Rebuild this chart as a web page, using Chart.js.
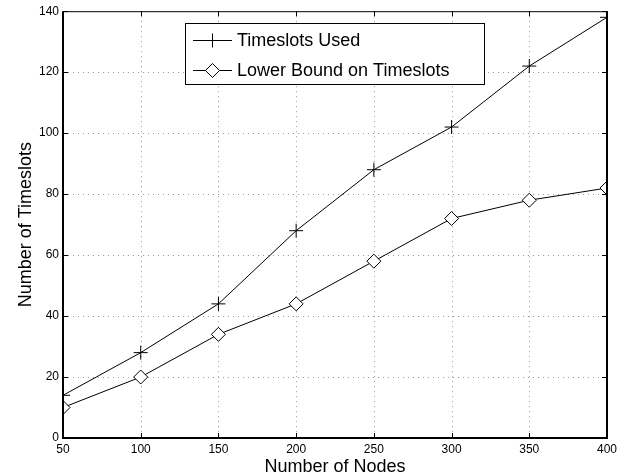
<!DOCTYPE html>
<html>
<head>
<meta charset="utf-8">
<script src="https://cdn.jsdelivr.net/npm/chart.js@4/dist/chart.umd.min.js"></script>
<style>
  html, body { margin: 0; padding: 0; background: #fff; }
  #wrap { width: 629px; height: 476px; position: relative; }
</style>
</head>
<body>
<div id="wrap"><canvas id="c"></canvas></div>
<script>
// data
const nodes = [50, 100, 150, 200, 250, 300, 350, 400];
const timeslotsUsed = [14, 28, 44, 68, 88, 102, 122, 138];
const lowerBound = [10, 20, 34, 44, 58, 72, 78, 82];
const xTicks = [50, 100, 150, 200, 250, 300, 350, 400];
const yTicks = [0, 20, 40, 60, 80, 100, 120, 140];

const FONT = '"Liberation Sans", Arial, Helvetica, sans-serif';

const toPoints = ys => nodes.map((x, i) => ({ x: x, y: ys[i] }));

// matlab style frame: dotted grid, box, inward ticks
const frame = {
    id: 'frame',
    beforeDatasetsDraw(chart) {
        const { ctx, chartArea: a, scales: { x, y } } = chart;
        ctx.save();
        ctx.strokeStyle = '#9a9a9a';
        ctx.lineWidth = 1;
        ctx.setLineDash([1, 4]);
        xTicks.forEach(v => {
            const px = Math.round(x.getPixelForValue(v)) + 0.5;
            if (px < a.left + 2 || px > a.right - 2) return;
            ctx.beginPath(); ctx.moveTo(px, a.top); ctx.lineTo(px, a.bottom); ctx.stroke();
        });
        yTicks.forEach(v => {
            const py = Math.round(y.getPixelForValue(v)) + 0.5;
            if (py < a.top + 2 || py > a.bottom - 2) return;
            ctx.beginPath(); ctx.moveTo(a.left, py); ctx.lineTo(a.right, py); ctx.stroke();
        });
        ctx.restore();
    },
    afterDatasetsDraw(chart) {
        const { ctx, chartArea: a, scales: { x, y } } = chart;
        ctx.save();
        ctx.strokeStyle = '#000';
        ctx.setLineDash([]);
        // top edge thin
        ctx.lineWidth = 1;
        ctx.beginPath(); ctx.moveTo(a.left, a.top + 0.5); ctx.lineTo(a.right, a.top + 0.5); ctx.stroke();
        // left, bottom, right thicker
        ctx.lineWidth = 2;
        ctx.beginPath();
        ctx.moveTo(a.left, a.top); ctx.lineTo(a.left, a.bottom);
        ctx.lineTo(a.right, a.bottom); ctx.lineTo(a.right, a.top);
        ctx.stroke();
        // inward tick marks
        const tl = 5;
        ctx.lineWidth = 1;
        xTicks.forEach(v => {
            const px = Math.round(x.getPixelForValue(v)) + 0.5;
            ctx.beginPath();
            ctx.moveTo(px, a.bottom); ctx.lineTo(px, a.bottom - tl);
            ctx.moveTo(px, a.top); ctx.lineTo(px, a.top + tl);
            ctx.stroke();
        });
        yTicks.forEach(v => {
            const py = Math.round(y.getPixelForValue(v)) + 0.5;
            ctx.beginPath();
            ctx.moveTo(a.left, py); ctx.lineTo(a.left + tl, py);
            ctx.moveTo(a.right, py); ctx.lineTo(a.right - tl, py);
            ctx.stroke();
        });
        ctx.restore();
    }
};

// boxed legend with line + marker samples
const boxLegend = {
    id: 'boxLegend',
    afterDraw(chart) {
        const ctx = chart.ctx;
        const box = { x: 185.5, y: 23.5, w: 299, h: 61 };
        const rows = [40.5, 70.5];
        ctx.save();
        ctx.fillStyle = '#fff';
        ctx.fillRect(box.x, box.y, box.w, box.h);
        ctx.strokeStyle = '#000';
        ctx.lineWidth = 1;
        ctx.strokeRect(box.x, box.y, box.w, box.h);
        chart.data.datasets.forEach((ds, i) => {
            const cy = rows[i];
            ctx.strokeStyle = '#000';
            ctx.lineWidth = 1;
            ctx.beginPath(); ctx.moveTo(193, cy); ctx.lineTo(232, cy); ctx.stroke();
            ctx.fillStyle = ds.pointBackgroundColor;
            ctx.strokeStyle = '#000';
            Chart.helpers.drawPoint(ctx, {
                pointStyle: ds.pointStyle,
                radius: ds.pointRadius,
                borderWidth: 1,
                rotation: 0
            }, 212.5, cy);
            ctx.fillStyle = '#000';
            ctx.font = '18px ' + FONT;
            ctx.textBaseline = 'middle';
            ctx.textAlign = 'left';
            ctx.fillText(ds.label, 237, cy + 1);
        });
        ctx.restore();
    }
};

new Chart(document.getElementById('c'), {
    type: 'line',
    data: {
        datasets: [{
            label: 'Timeslots Used',
            data: toPoints(timeslotsUsed),
            borderColor: '#000',
            borderWidth: 1,
            pointStyle: 'cross',
            pointRadius: 7,
            pointBorderWidth: 1,
            pointBorderColor: '#000',
            pointBackgroundColor: '#000',
            tension: 0
        }, {
            label: 'Lower Bound on Timeslots',
            data: toPoints(lowerBound),
            borderColor: '#000',
            borderWidth: 1,
            pointStyle: 'rectRot',
            pointRadius: 7,
            pointBorderWidth: 1,
            pointBorderColor: '#000',
            pointBackgroundColor: '#fff',
            tension: 0
        }]
    },
    options: {
        responsive: true,
        maintainAspectRatio: false,
        animation: false,
        layout: { padding: { top: 11, right: 22, left: 0, bottom: 0 } },
        plugins: {
            legend: { display: false },
            tooltip: { enabled: false }
        },
        scales: {
            x: {
                type: 'linear',
                min: 50,
                max: 400,
                afterBuildTicks: s => { s.ticks = xTicks.map(v => ({ value: v })); },
                afterFit: s => { s.height = 38; },
                grid: { display: false, drawTicks: false },
                border: { display: false },
                ticks: { color: '#000', font: { family: FONT, size: 12 }, padding: 4, maxRotation: 0 },
                title: { display: true, text: 'Number of Nodes', color: '#000', font: { family: FONT, size: 18, lineHeight: 1.0 }, padding: { top: 0, bottom: 0 } }
            },
            y: {
                min: 0,
                max: 140,
                afterBuildTicks: s => { s.ticks = yTicks.map(v => ({ value: v })); },
                afterFit: s => { s.width = 63; },
                grid: { display: false, drawTicks: false },
                border: { display: false },
                ticks: { color: '#000', font: { family: FONT, size: 12 }, padding: 4 },
                title: { display: true, text: 'Number of Timeslots', color: '#000', font: { family: FONT, size: 18 }, padding: { top: 15, bottom: 0 } }
            }
        }
    },
    plugins: [frame, boxLegend]
});
</script>
</body>
</html>
